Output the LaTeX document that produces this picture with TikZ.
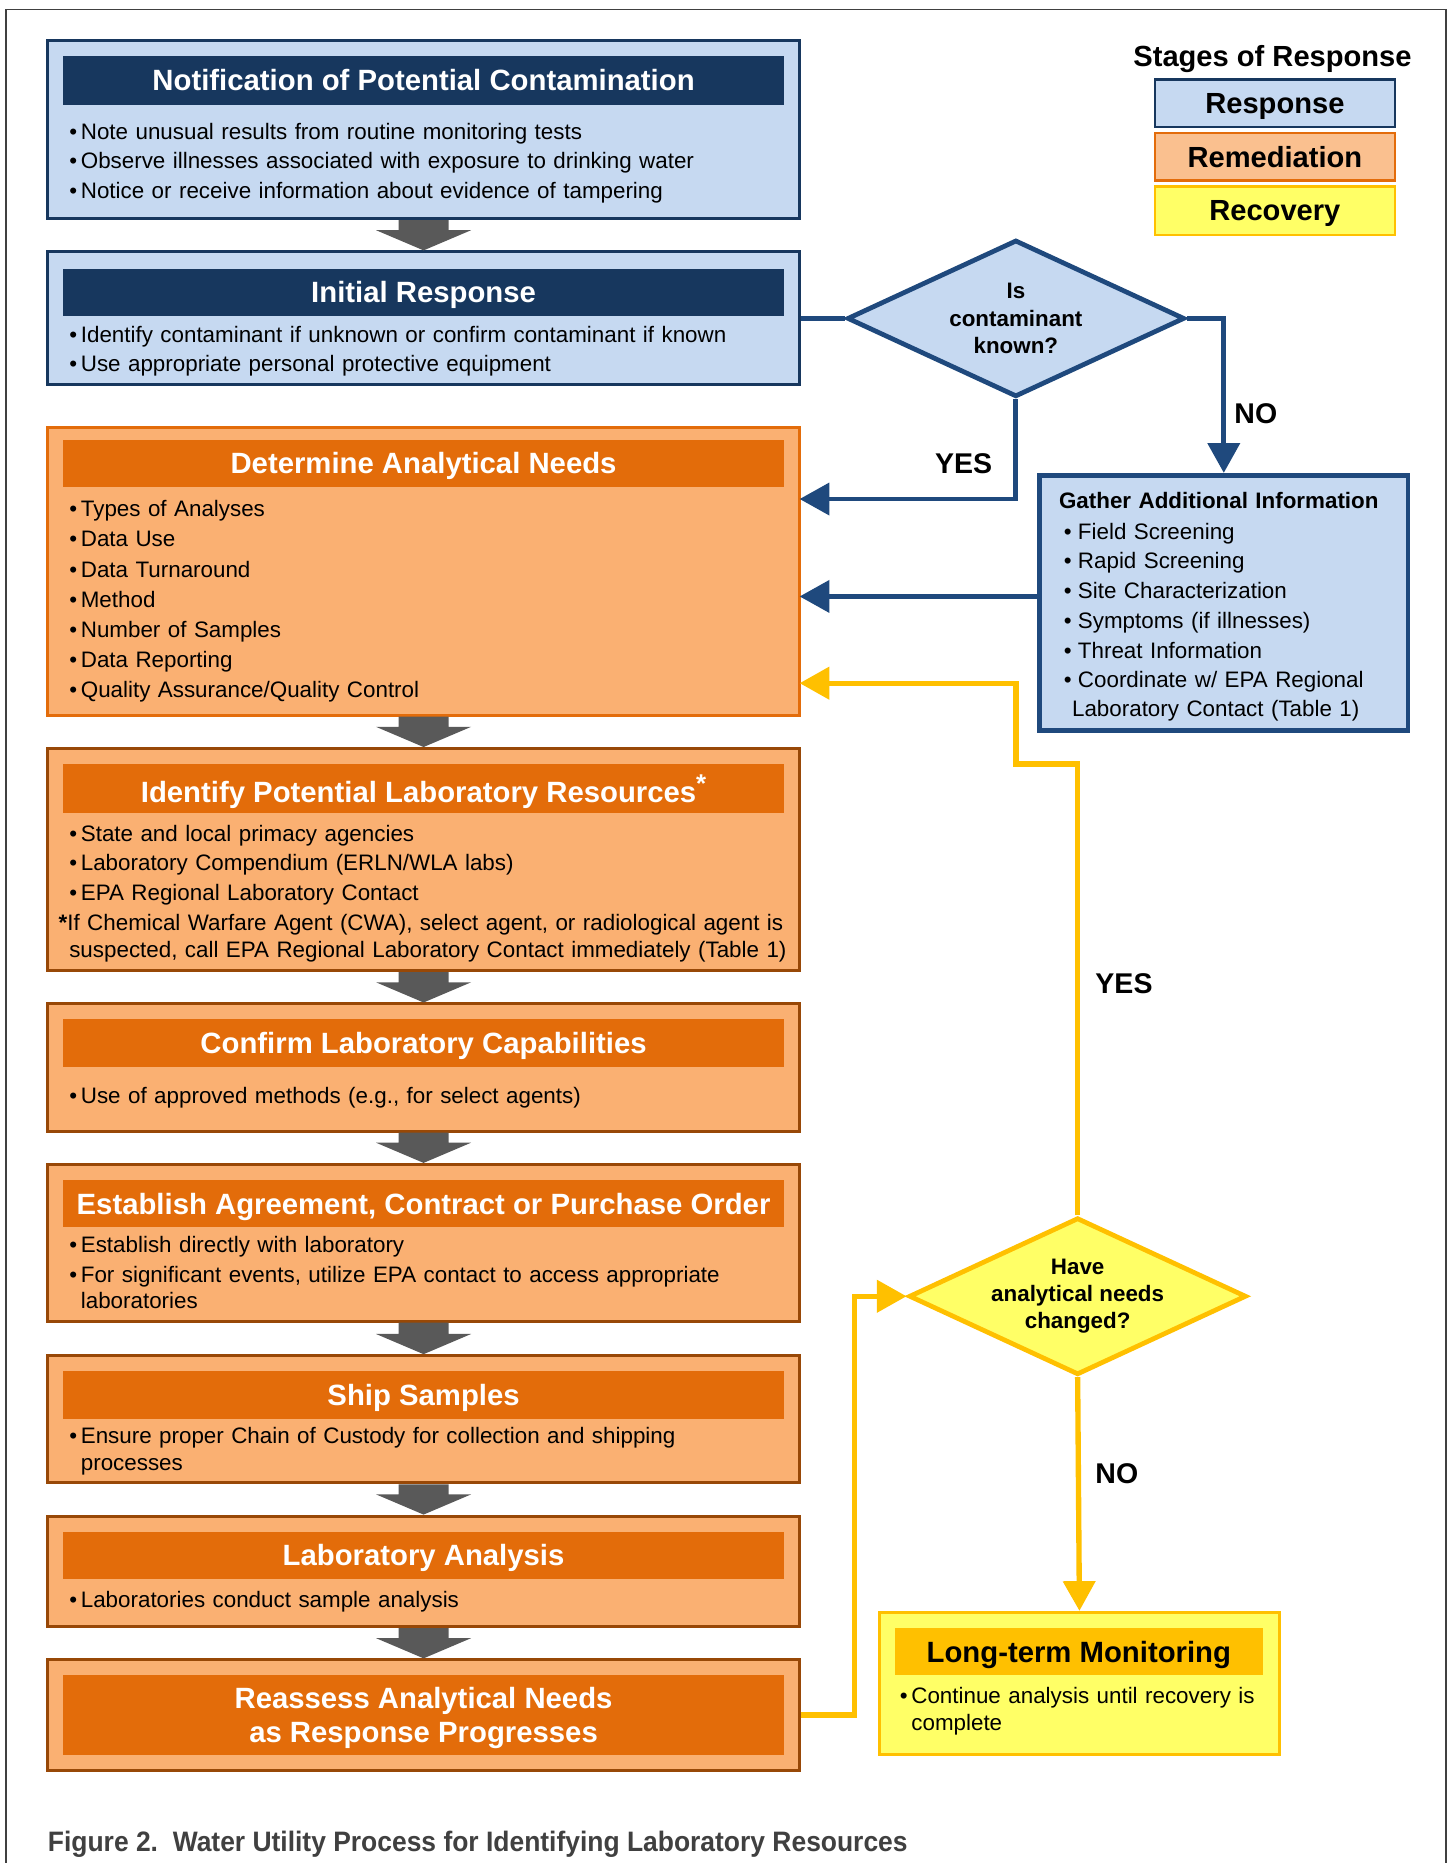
\documentclass[tikz,border=0pt]{standalone}
\usepackage{fontspec}
\setmainfont{Liberation Sans}
\usepackage{graphicx}
\usetikzlibrary{fit}
\usetikzlibrary{calc}
\usetikzlibrary{shapes.geometric}
\usetikzlibrary{arrows.meta}

\definecolor{respfill}{RGB}{198,217,241}
\definecolor{respdark}{RGB}{23,55,94}
\definecolor{respline}{RGB}{31,73,125}
\definecolor{remfill}{RGB}{250,176,114}
\definecolor{remlegend}{RGB}{250,192,143}
\definecolor{remorange}{RGB}{227,108,10}
\definecolor{remline}{RGB}{152,72,7}
\definecolor{recfill}{RGB}{255,255,102}
\definecolor{recline}{RGB}{255,192,0}
\definecolor{stepgray}{RGB}{89,89,89}
\definecolor{framegray}{RGB}{64,64,64}

\newcommand{\bodysize}{\fontsize{11.3}{13.5}\selectfont}
\newcommand{\headsize}{\fontsize{14.8}{17.4}\selectfont\bfseries}
\newcommand{\itm}{\textbullet\,}

\begin{document}
\begin{tikzpicture}[x=0.6pt,y=0.6pt,yscale=-1,xscale=1,
  respbox/.style={draw=respdark, line width=1.5pt, fill=respfill, inner sep=0pt},
  rembox/.style={draw=remline, line width=1.5pt, fill=remfill, inner sep=0pt},
  recbox/.style={draw=recline, line width=1.5pt, fill=recfill, inner sep=0pt},
  resphead/.style={fill=respdark, inner sep=0pt},
  remhead/.style={fill=remorange, inner sep=0pt},
  rechead/.style={fill=recline, inner sep=0pt},
  headtext/.style={text=white, font=\headsize, inner sep=0pt, text depth=0pt, align=center},
  bullets/.style={anchor=base west, inner sep=0pt, font=\bodysize, text width=380pt, align=left},
  choice/.style={diamond, aspect=2.1, inner sep=0pt, minimum width=170.4pt, minimum height=79.2pt,
    line width=2.4pt, font=\fontsize{11.3}{13.8}\selectfont\bfseries, align=center},
  answer/.style={font=\fontsize{14.4}{17}\selectfont\bfseries, inner sep=0pt},
  legend/.style={line width=1.2pt, inner sep=0pt},
  legendtext/.style={font=\fontsize{14.7}{17}\selectfont\bfseries, inner sep=0pt, text depth=0pt},
  blueflow/.style={draw=respline, line width=2.4pt, -{Triangle[length=15pt,width=16pt]}},
  yellowflow/.style={draw=recline, line width=2.7pt, -{Triangle[length=15pt,width=16pt]}},
]
\useasboundingbox (0,0) rectangle (1222,1568);

%Straight Lines: outer frame
\draw [framegray, line width=0.9pt] (5,1568) -- (5,8) -- (1217,8) -- (1217,1568);

%Shape: Rectangle [Notification]
\node [respbox, fit={(40,34) (673,184)}] (notif) {};
\node [resphead, fit={(53,47) (660,88)}] (notifhead) {};
\node [headtext] (notiftitle) at (notifhead.center) {Notification of Potential Contamination};
\node [bullets] (notiftext) at (58,117) {\itm Note unusual results from routine monitoring tests\\[1.5pt]
  \itm Observe illnesses associated with exposure to drinking water\\[1.5pt]
  \itm Notice or receive information about evidence of tampering};

%Shape: Rectangle [Initial Response]
\node [respbox, fit={(40,212) (673,324)}] (initial) {};
\node [resphead, fit={(53,226) (660,266)}] (initialhead) {};
\node [headtext] (initialtitle) at (initialhead.center) {Initial Response};
\node [bullets] (initialtext) at (58,288) {\itm Identify contaminant if unknown or confirm contaminant if known\\[1.5pt]
  \itm Use appropriate personal protective equipment};

%Shape: Rectangle [Determine Analytical Needs]
\node [rembox, draw=remorange, fit={(40,360) (673,602)}] (determine) {};
\node [remhead, fit={(53,370) (660,410)}] (determinehead) {};
\node [headtext] (determinetitle) at (determinehead.center) {Determine Analytical Needs};
\node [bullets] (determinetext) at (58,435) {\itm Types of Analyses\\[1.7pt]
  \itm Data Use\\[1.7pt]
  \itm Data Turnaround\\[1.7pt]
  \itm Method\\[1.7pt]
  \itm Number of Samples\\[1.7pt]
  \itm Data Reporting\\[1.7pt]
  \itm Quality Assurance/Quality Control};

%Shape: Rectangle [Identify Potential Laboratory Resources]
\node [rembox, fit={(40,630) (673,817)}] (identify) {};
\node [remhead, fit={(53,643) (660,684)}] (identifyhead) {};
\node [headtext] (identifytitle) at (identifyhead.center)
  {Identify Potential Laboratory Resources\raisebox{5pt}{\fontsize{13}{13}\selectfont *}};
\node [bullets] (identifytext) at (58,708) {\itm State and local primacy agencies\\[1.5pt]
  \itm Laboratory Compendium (ERLN/WLA labs)\\[1.5pt]
  \itm EPA Regional Laboratory Contact\\[1.5pt]
  \hspace*{-5.4pt}\textbf{*}If Chemical Warfare Agent (CWA), select agent, or radiological agent is\\
  suspected, call EPA Regional Laboratory Contact immediately (Table 1)};

%Shape: Rectangle [Confirm Laboratory Capabilities]
\node [rembox, fit={(40,845) (673,952)}] (confirm) {};
\node [remhead, fit={(53,858) (660,898)}] (confirmhead) {};
\node [headtext] (confirmtitle) at (confirmhead.center) {Confirm Laboratory Capabilities};
\node [bullets] (confirmtext) at (58,929) {\itm Use of approved methods (e.g., for select agents)};

%Shape: Rectangle [Establish Agreement]
\node [rembox, fit={(40,980) (673,1112)}] (agree) {};
\node [remhead, fit={(53,993) (660,1033)}] (agreehead) {};
\node [headtext] (agreetitle) at (agreehead.center) {Establish Agreement, Contract or Purchase Order};
\node [bullets] (agreetext) at (58,1054) {\itm Establish directly with laboratory\\[1.5pt]
  \itm For significant events, utilize EPA contact to access appropriate\\
  \phantom{\itm}laboratories};

%Shape: Rectangle [Ship Samples]
\node [rembox, fit={(40,1141) (673,1248)}] (ship) {};
\node [remhead, fit={(53,1154) (660,1194)}] (shiphead) {};
\node [headtext] (shiptitle) at (shiphead.center) {Ship Samples};
\node [bullets] (shiptext) at (58,1215) {\itm Ensure proper Chain of Custody for collection and shipping\\
  \phantom{\itm}processes};

%Shape: Rectangle [Laboratory Analysis]
\node [rembox, fit={(40,1276) (673,1369)}] (analysis) {};
\node [remhead, fit={(53,1289) (660,1329)}] (analysishead) {};
\node [headtext] (analysistitle) at (analysishead.center) {Laboratory Analysis};
\node [bullets] (analysistext) at (58,1353) {\itm Laboratories conduct sample analysis};

%Shape: Rectangle [Reassess]
\node [rembox, fit={(40,1397) (673,1490)}] (reassess) {};
\node [remhead, fit={(53,1410) (660,1477)}] (reassesshead) {};
\node [headtext] (reassesstitle) at (reassesshead.center) {Reassess Analytical Needs\\as Response Progresses};

%Shape: Rectangle [Gather Additional Information]
\node [respbox, draw=respline, line width=2.4pt, fit={(875,400) (1185,615)}] (gather) {};
\node [bullets, text width=180pt] (gathertext) at (891,428) {\textbf{Gather Additional Information}\\[2pt]
  \hspace*{2.4pt}\textbullet\hspace{3.2pt}Field Screening\\[1.5pt]
  \hspace*{2.4pt}\textbullet\hspace{3.2pt}Rapid Screening\\[1.5pt]
  \hspace*{2.4pt}\textbullet\hspace{3.2pt}Site Characterization\\[1.5pt]
  \hspace*{2.4pt}\textbullet\hspace{3.2pt}Symptoms (if illnesses)\\[1.5pt]
  \hspace*{2.4pt}\textbullet\hspace{3.2pt}Threat Information\\[1.5pt]
  \hspace*{2.4pt}\textbullet\hspace{3.2pt}Coordinate w/ EPA Regional\\[1pt]
  \hspace*{6.6pt}Laboratory Contact (Table 1)};

%Shape: Rectangle [Long-term Monitoring]
\node [recbox, fit={(740,1357) (1077,1477)}] (longterm) {};
\node [rechead, fit={(753,1370) (1063,1410)}] (longtermhead) {};
\node [headtext, text=black] (longtermtitle) at (longtermhead.center) {Long-term Monitoring};
\node [bullets, text width=200pt] (longtermtext) at (757,1434) {\itm Continue analysis until recovery is\\
  \phantom{\itm}complete};

%Shape: Diamond
\node [choice, draw=respline, fill=respfill] (known) at (855,268) {Is\\contaminant\\known?};
\node [choice, draw=recline, fill=recfill] (changed) at (907,1091) {Have\\analytical needs\\changed?};

% Legend
\node [legendtext] (stages) at (1071,47) {Stages of Response};
\node [legend, draw=respdark, fill=respfill, fit={(972,67) (1174,107)}] (legresp) {};
\node [legendtext] (legresptext) at (legresp.center) {Response};
\node [legend, draw=remorange, fill=remlegend, fit={(972,112) (1174,152)}] (legrem) {};
\node [legendtext] (legremtext) at (legrem.center) {Remediation};
\node [legend, draw=recline, fill=recfill, fit={(972,157) (1174,198)}] (legrec) {};
\node [legendtext] (legrectext) at (legrec.center) {Recovery};

%Block arrows between steps
\foreach \a/\b in {notif/initial, determine/identify, identify/confirm, confirm/agree, agree/ship, ship/analysis, analysis/reassess}
  \fill [stepgray] ($(\a.south)+(-21,0)$) |- ($(\b.north)+(-40,-17)$) -- (\b.north) -- ($(\b.north)+(40,-17)$) -| ($(\a.south)+(21,0)$) -- cycle;

%Connectors
\coordinate (yesin) at (673,420);
\coordinate (infoin) at (673,502);
\coordinate (againin) at (673,575);
\draw [draw=respline, line width=2.4pt] (initial.east) -- (known.west);
\draw [blueflow] (known.east) -| (gather.north);
\draw [blueflow] (known.south) |- (yesin);
\draw [blueflow] (infoin -| gather.west) -- (infoin);
\draw [yellowflow] (changed.north) |- (855,643) |- (againin);
\draw [yellowflow] (reassess.east) -- ++(45,0) |- (changed.west);
\draw [yellowflow] (changed.south) -- (longterm.north);

% Text Node
\node [answer] (yes1) at (811,390) {YES};
\node [answer] (no1) at (1057,348) {NO};
\node [answer] (yes2) at (946,828) {YES};
\node [answer] (no2) at (940,1240) {NO};

% Text Node
\node [anchor=base west, inner sep=0pt, text=framegray, font=\fontsize{14.2}{17}\selectfont\bfseries] (caption) at (40,1558)
  {\scalebox{0.94}[1]{Figure 2.\ \ Water Utility Process for Identifying Laboratory Resources}};

\end{tikzpicture}
\end{document}
